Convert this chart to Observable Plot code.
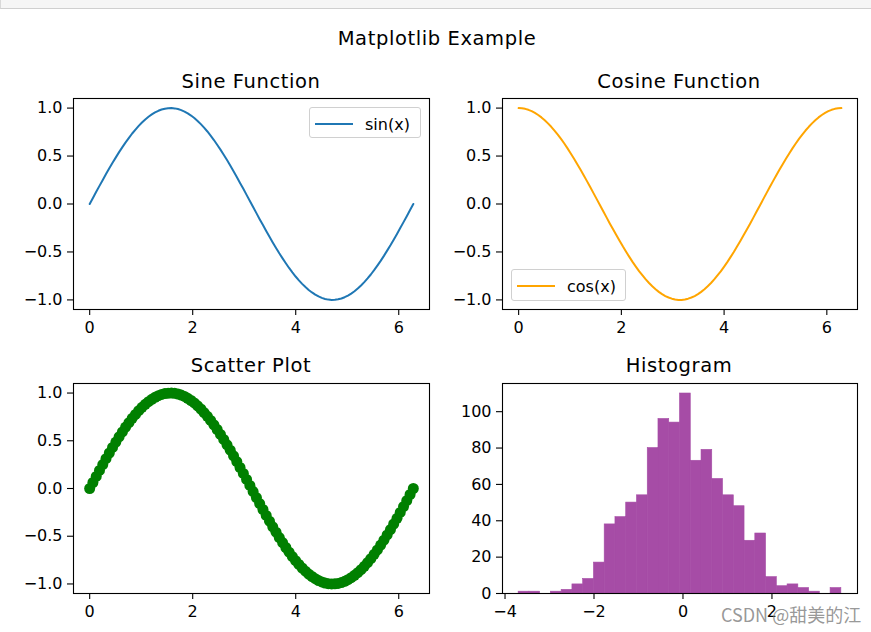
<!DOCTYPE html>
<html>
<head>
<meta charset="utf-8">
<script src="https://cdn.jsdelivr.net/npm/d3@7"></script>
<script src="https://cdn.jsdelivr.net/npm/@observablehq/plot@0.6"></script>
<style>
  html, body { margin: 0; padding: 0; background: #fff; }
  #fig { position: relative; width: 871px; height: 632px; overflow: hidden; background: #fff; font-family: "DejaVu Sans", sans-serif; color: #000; }
  #band { position: absolute; left: 0; top: 0; width: 871px; height: 9px; background: #f5f5f5; border-bottom: 1px solid #cfcfcf; border-left: 1px solid #d8d8d8; box-sizing: border-box; }
  .title { position: absolute; transform: translate(-50%, -50%); white-space: nowrap; letter-spacing: 0.6px; }
  .panel { position: absolute; }
  .legend { position: absolute; background: rgba(255,255,255,0.8); border: 1px solid #d0d0d0; border-radius: 3px; box-sizing: border-box; }
  .legend .swatch { position: absolute; height: 2px; }
  .legend .lab { position: absolute; font-size: 16px; white-space: nowrap; transform: translateY(-50%); }
  #wm { position: absolute; font-family: "Noto Sans CJK SC", "DejaVu Sans", sans-serif; font-size: 18px; line-height: 18px; color: rgba(125,125,125,0.8); white-space: nowrap; }
</style>
</head>
<body>
<div id="fig">
  <div id="band"></div>
</div>
<script>
// ---- data ----
const xVals = [
  0.000, 0.063, 0.127, 0.190, 0.254, 0.317, 0.381, 0.444, 0.508, 0.571,
  0.635, 0.698, 0.762, 0.825, 0.889, 0.952, 1.015, 1.079, 1.142, 1.206,
  1.269, 1.333, 1.396, 1.460, 1.523, 1.587, 1.650, 1.714, 1.777, 1.841,
  1.904, 1.968, 2.031, 2.095, 2.158, 2.221, 2.285, 2.348, 2.412, 2.475,
  2.539, 2.602, 2.666, 2.729, 2.793, 2.856, 2.919, 2.983, 3.046, 3.110,
  3.173, 3.237, 3.300, 3.364, 3.427, 3.491, 3.554, 3.618, 3.681, 3.745,
  3.808, 3.871, 3.935, 3.998, 4.062, 4.125, 4.189, 4.252, 4.316, 4.379,
  4.443, 4.506, 4.570, 4.633, 4.697, 4.760, 4.823, 4.887, 4.950, 5.014,
  5.077, 5.141, 5.204, 5.268, 5.331, 5.395, 5.458, 5.522, 5.585, 5.649,
  5.712, 5.775, 5.839, 5.902, 5.966, 6.029, 6.093, 6.156, 6.220, 6.283
];
const sinVals = [
  0.000, 0.063, 0.127, 0.189, 0.251, 0.312, 0.372, 0.430, 0.486, 0.541,
  0.593, 0.643, 0.690, 0.735, 0.776, 0.815, 0.850, 0.882, 0.910, 0.934,
  0.955, 0.972, 0.985, 0.994, 0.999, 1.000, 0.997, 0.990, 0.979, 0.964,
  0.945, 0.922, 0.896, 0.866, 0.833, 0.796, 0.756, 0.713, 0.667, 0.618,
  0.567, 0.514, 0.458, 0.401, 0.342, 0.282, 0.220, 0.158, 0.095, 0.032,
  -0.032, -0.095, -0.158, -0.220, -0.282, -0.342, -0.401, -0.458, -0.514, -0.567,
  -0.618, -0.667, -0.713, -0.756, -0.796, -0.833, -0.866, -0.896, -0.922, -0.945,
  -0.964, -0.979, -0.990, -0.997, -1.000, -0.999, -0.994, -0.985, -0.972, -0.955,
  -0.934, -0.910, -0.882, -0.850, -0.815, -0.776, -0.735, -0.690, -0.643, -0.593,
  -0.541, -0.486, -0.430, -0.372, -0.312, -0.251, -0.189, -0.127, -0.063, 0.000
];
const cosVals = [
  1.000, 0.998, 0.992, 0.982, 0.968, 0.950, 0.928, 0.903, 0.874, 0.841,
  0.805, 0.766, 0.724, 0.679, 0.631, 0.580, 0.527, 0.472, 0.415, 0.357,
  0.297, 0.236, 0.174, 0.111, 0.048, -0.016, -0.079, -0.142, -0.205, -0.267,
  -0.327, -0.386, -0.444, -0.500, -0.554, -0.606, -0.655, -0.702, -0.745, -0.786,
  -0.824, -0.858, -0.889, -0.916, -0.940, -0.960, -0.975, -0.987, -0.996, -1.000,
  -1.000, -0.996, -0.987, -0.975, -0.960, -0.940, -0.916, -0.889, -0.858, -0.824,
  -0.786, -0.745, -0.702, -0.655, -0.606, -0.554, -0.500, -0.444, -0.386, -0.327,
  -0.267, -0.205, -0.142, -0.079, -0.016, 0.048, 0.111, 0.174, 0.236, 0.297,
  0.357, 0.415, 0.472, 0.527, 0.580, 0.631, 0.679, 0.724, 0.766, 0.805,
  0.841, 0.874, 0.903, 0.928, 0.950, 0.968, 0.982, 0.992, 0.998, 1.000
];
const histEdges = [
  -3.694, -3.452, -3.210, -2.969, -2.727, -2.485, -2.243, -2.001, -1.760, -1.518,
  -1.276, -1.034, -0.792, -0.551, -0.309, -0.067, 0.175, 0.417, 0.658, 0.900,
  1.142, 1.384, 1.626, 1.867, 2.109, 2.351, 2.593, 2.835, 3.076, 3.318, 3.560
];
const histCounts = [1, 1, 0, 1, 2, 5, 8, 17, 38, 42, 50, 54, 80, 96, 94, 110, 73, 79, 63, 54, 48, 29, 33, 9, 4, 5, 3, 1, 0, 3];

const figTitle = "Matplotlib Example";
const panelTitles = ["Sine Function", "Cosine Function", "Scatter Plot", "Histogram"];
const legendLabels = ["sin(x)", "cos(x)"];
const waveXTicks = [0, 2, 4, 6];
const waveYTicks = [-1, -0.5, 0, 0.5, 1];
const histXTicks = [-4, -2, 0, 2];
const histYTicks = [0, 20, 40, 60, 80, 100];
const watermark = "CSDN @甜美的江";

// ---- tables built from the arrays ----
const waveSin = xVals.map((x, i) => ({x, y: sinVals[i]}));
const waveCos = xVals.map((x, i) => ({x, y: cosVals[i]}));
const bins = histCounts.map((c, i) => ({x1: histEdges[i], x2: histEdges[i + 1], count: c}));

// matplotlib-like 5% margins
function padDomain(lo, hi, f = 0.05) { const d = (hi - lo) * f; return [lo - d, hi + d]; }
const waveXDomain = padDomain(d3.min(xVals), d3.max(xVals));
const waveYDomain = padDomain(-1, 1);
const histXDomain = padDomain(histEdges[0], histEdges[histEdges.length - 1]);
const histYDomain = [0, d3.max(histCounts) * 1.05];

const fig = document.getElementById("fig");
const fmt1 = d3.format(".1f");
const fmt0 = d3.format("d");

function addText(cls, text, x, y, size) {
  const d = document.createElement("div");
  d.className = cls; d.textContent = text;
  d.style.left = x + "px"; d.style.top = y + "px"; d.style.fontSize = size + "px";
  fig.appendChild(d);
  return d;
}

function panel({left, top, w, h, xDomain, yDomain, xTicks, yTicks, xFmt, yFmt, marks}) {
  const mL = 66, mR = 12, mT = 10, mB = 36;
  const p = Plot.plot({
    width: w + mL + mR, height: h + mT + mB,
    marginLeft: mL, marginRight: mR, marginTop: mT, marginBottom: mB,
    x: {domain: xDomain, label: null},
    y: {domain: yDomain, label: null},
    style: {fontFamily: "DejaVu Sans", fontSize: "16px", color: "#000", background: "transparent", overflow: "visible"},
    marks: [
      ...marks,
      Plot.frame({stroke: "#000", strokeWidth: 1.1}),
      Plot.axisX({ticks: xTicks, tickFormat: xFmt, tickSize: 6, tickPadding: 6, label: null, strokeWidth: 1.1}),
      Plot.axisY({ticks: yTicks, tickFormat: yFmt, tickSize: 6, tickPadding: 5, label: null, strokeWidth: 1.1})
    ]
  });
  p.classList.add("panel");
  p.style.left = (left - mL) + "px";
  p.style.top = (top - mT) + "px";
  fig.appendChild(p);
}

// Sine
panel({left: 73, top: 98, w: 356, h: 211, xDomain: waveXDomain, yDomain: waveYDomain,
  xTicks: waveXTicks, yTicks: waveYTicks, xFmt: fmt0, yFmt: fmt1,
  marks: [Plot.line(waveSin, {x: "x", y: "y", stroke: "#1f77b4", strokeWidth: 2})]});
// Cosine
panel({left: 502, top: 98, w: 355, h: 211, xDomain: waveXDomain, yDomain: waveYDomain,
  xTicks: waveXTicks, yTicks: waveYTicks, xFmt: fmt0, yFmt: fmt1,
  marks: [Plot.line(waveCos, {x: "x", y: "y", stroke: "#ffa500", strokeWidth: 2})]});
// Scatter
panel({left: 73, top: 383, w: 356, h: 210, xDomain: waveXDomain, yDomain: waveYDomain,
  xTicks: waveXTicks, yTicks: waveYTicks, xFmt: fmt0, yFmt: fmt1,
  marks: [Plot.dot(waveSin, {x: "x", y: "y", r: 5.5, fill: "#008000", stroke: null})]});
// Histogram (purple at alpha 0.7 over white)
panel({left: 502, top: 383, w: 355, h: 210, xDomain: histXDomain, yDomain: histYDomain,
  xTicks: histXTicks, yTicks: histYTicks, xFmt: fmt0, yFmt: fmt0,
  marks: [Plot.rectY(bins, {x1: "x1", x2: "x2", y: "count", fill: "#a64ca6", stroke: "#a64ca6", strokeWidth: 0.6, inset: 0})]});

// titles
addText("title", figTitle, 437, 38, 19.5);
addText("title", panelTitles[0], 251, 81, 19.5);
addText("title", panelTitles[1], 679, 81, 19.5);
addText("title", panelTitles[2], 251, 365, 19.5);
addText("title", panelTitles[3], 679, 365, 19.5);

// legends
function legend(left, top, w, h, color, label) {
  const b = document.createElement("div");
  b.className = "legend";
  b.style.left = left + "px"; b.style.top = top + "px"; b.style.width = w + "px"; b.style.height = h + "px";
  const s = document.createElement("div");
  s.className = "swatch";
  s.style.left = "5px"; s.style.width = "38px"; s.style.top = (h / 2 - 1) + "px"; s.style.background = color;
  const t = document.createElement("div");
  t.className = "lab"; t.textContent = label;
  t.style.left = "55px"; t.style.top = (h / 2) + "px";
  b.appendChild(s); b.appendChild(t);
  fig.appendChild(b);
}
legend(309, 107, 112, 31, "#1f77b4", legendLabels[0]);
legend(511, 269, 115, 32, "#ffa500", legendLabels[1]);

// watermark
const wm = document.createElement("div");
wm.id = "wm"; wm.textContent = watermark;
wm.style.left = "721px"; wm.style.top = "605px";
fig.appendChild(wm);
</script>
</body>
</html>
